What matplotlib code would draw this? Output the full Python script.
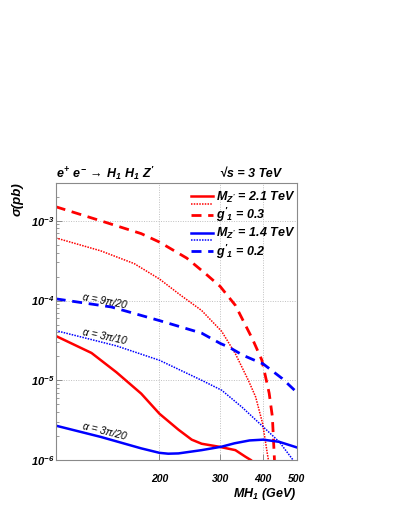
import matplotlib
matplotlib.use("Agg")
from matplotlib import pyplot as plt
from matplotlib.lines import Line2D
from matplotlib.ticker import FixedLocator, FuncFormatter, LogLocator, NullFormatter, NullLocator
import numpy as np

# values: MH1 (GeV) -> sigma (pb)
# M_Z' = 2.1 TeV, g'1 = 0.3 (red)
red_dash_mh = [100, 135, 177, 200, 240, 271, 300, 332, 372, 396, 402, 416, 425, 431]
red_dash_xs = [1.5e-3, 1.0e-3, 6.9e-4, 5.4e-4, 3.4e-4, 2.2e-4, 1.5e-4, 8.7e-5, 3.3e-5,
               1.8e-5, 1.35e-5, 6.9e-6, 3.5e-6, 1.0e-6]
red_dot_mh = [100, 135, 169, 200, 230, 265, 303, 332, 362, 380, 398, 411, 414]
red_dot_xs = [6.1e-4, 4.2e-4, 2.9e-4, 1.86e-4, 1.17e-4, 7.5e-5, 4.1e-5, 2.15e-5, 1.0e-5,
              6.2e-6, 2.9e-6, 1.2e-6, 1.0e-6]
red_sol_mh = [100, 127, 150, 177, 200, 227, 248, 265, 297, 332, 355, 368]
red_sol_xs = [3.6e-5, 2.2e-5, 1.26e-5, 6.8e-6, 3.8e-6, 2.4e-6, 1.8e-6, 1.6e-6, 1.47e-6,
              1.33e-6, 1.1e-6, 1.0e-6]

# M_Z' = 1.4 TeV, g'1 = 0.2 (blue)
blue_dash_mh = [100, 145, 200, 265, 300, 318, 350, 400, 454, 493, 500]
blue_dash_xs = [1.05e-4, 8.3e-5, 5.6e-5, 3.9e-5, 2.9e-5, 2.6e-5, 2.05e-5, 1.6e-5, 1.05e-5,
                7.5e-6, 7.0e-6]
blue_dot_mh = [100, 150, 200, 265, 303, 347, 400, 445, 488]
blue_dot_xs = [4.2e-5, 2.7e-5, 1.78e-5, 1.0e-5, 7.5e-6, 4.6e-6, 2.6e-6, 1.69e-6, 1.0e-6]
blue_sol_mh = [100, 135, 177, 200, 212, 227, 265, 303, 330, 365, 400, 445, 500]
blue_sol_xs = [2.7e-6, 1.95e-6, 1.4e-6, 1.23e-6, 1.2e-6, 1.21e-6, 1.33e-6, 1.47e-6, 1.62e-6,
               1.76e-6, 1.8e-6, 1.69e-6, 1.44e-6]

x_ticks = [200, 300, 400, 500]
y_ticks = [1e-6, 1e-5, 1e-4, 1e-3]

# alpha labels: (text, MH1, sigma, angle)
alpha_labels = [(r"α = 9π/20", 119, 1.02e-4, -11),
                (r"α = 3π/10", 119, 3.7e-5, -12),
                (r"α = 3π/20", 119, 2.45e-6, -14)]

plt.rcParams['font.family'] = ['Liberation Sans', 'DejaVu Sans']
plt.rcParams['font.weight'] = 'bold'
plt.rcParams['font.style'] = 'italic'
plt.rcParams['mathtext.fontset'] = 'custom'
plt.rcParams['mathtext.rm'] = 'Liberation Sans:italic:bold'
plt.rcParams['mathtext.it'] = 'Liberation Sans:italic:bold'
plt.rcParams['mathtext.bf'] = 'Liberation Sans:italic:bold'

RED = '#ff0000'
BLUE = '#0000ff'
GRID = '#c0c0c0'
FRAME = '#8a8a8a'
dash = (0, (3.6, 2.4))
dot = (0, (1, 0.8))

fig = plt.figure(figsize=(3.99, 5.16), dpi=100)
ax = fig.add_axes([0.1396, 0.1085, 0.604, 0.5374])

ax.plot(red_sol_mh, red_sol_xs, color=RED, lw=1.8)
ax.plot(red_dot_mh, red_dot_xs, color=RED, lw=1.1, linestyle=dot)
ax.plot(red_dash_mh, red_dash_xs, color=RED, lw=2.0, linestyle=dash)
ax.plot(blue_sol_mh, blue_sol_xs, color=BLUE, lw=1.8)
ax.plot(blue_dot_mh, blue_dot_xs, color=BLUE, lw=1.1, linestyle=dot)
ax.plot(blue_dash_mh, blue_dash_xs, color=BLUE, lw=2.0, linestyle=dash)

ax.set_xscale('log')
ax.set_yscale('log')
ax.set_xlim(100, 500)
ax.set_ylim(1e-6, 3e-3)

ax.xaxis.set_major_locator(FixedLocator(x_ticks))
ax.xaxis.set_major_formatter(FuncFormatter(lambda v, p: "%d" % v))
ax.xaxis.set_minor_locator(NullLocator())
ax.yaxis.set_major_locator(FixedLocator(y_ticks))
ax.yaxis.set_major_formatter(FuncFormatter(lambda v, p: r"$10^{%d}$" % round(np.log10(v))))
ax.yaxis.set_minor_locator(LogLocator(base=10, subs=np.arange(2, 10)))
ax.yaxis.set_minor_formatter(NullFormatter())

ax.tick_params(axis='x', which='major', direction='in', length=4, width=0.7, color=FRAME,
               labelsize=7.5, pad=10)
ax.tick_params(axis='y', which='major', direction='in', length=4.5, width=0.7, color=FRAME,
               labelsize=8, pad=1)
ax.tick_params(axis='y', which='minor', direction='in', length=2.3, width=0.6, color=FRAME)

ax.grid(True, which='major', color=GRID, linestyle=(0, (1, 1.5)), lw=0.7)
for s in ax.spines.values():
    s.set_color(FRAME)
    s.set_linewidth(0.8)

for txt, mh, xs, ang in alpha_labels:
    ax.text(mh, xs, txt, fontsize=7.5, fontweight='normal', style='italic', rotation=ang,
            rotation_mode='anchor', ha='left', va='baseline')

ax.text(0.0, 1.016, r"$e^{+}\ e^{-}\,\rightarrow\, H_{1}\ H_{1}\ Z'$", transform=ax.transAxes,
        fontsize=9, ha='left', va='baseline')
ax.text(0.81, 1.0197, "√s = 3 TeV", transform=ax.transAxes, fontsize=9, ha='center',
        va='baseline', fontweight='bold', style='italic')

ax.set_ylabel("σ(pb)", fontsize=9.5, loc='top', fontweight='bold', style='italic')
ax.yaxis.set_label_coords(-0.135, 1.0)
ax.set_xlabel(r"$MH_{1}\ (GeV)$", fontsize=9, loc='right')
ax.xaxis.set_label_coords(1.0, -0.095)

handles = [Line2D([], [], color=RED, lw=1.8),
           Line2D([], [], color=RED, lw=1.1, linestyle=dot),
           Line2D([], [], color=RED, lw=2.0, linestyle=dash),
           Line2D([], [], color='none'),
           Line2D([], [], color=BLUE, lw=1.8),
           Line2D([], [], color=BLUE, lw=1.1, linestyle=dot),
           Line2D([], [], color=BLUE, lw=2.0, linestyle=dash)]
labels = [r"$M_{Z'}$ = 2.1 TeV", "", r"$g'_{1}$ = 0.3", "",
          r"$M_{Z'}$ = 1.4 TeV", "", r"$g'_{1}$ = 0.2"]
ax.legend(handles, labels, loc='upper left', bbox_to_anchor=(0.56, 0.975), frameon=False,
          fontsize=9, handlelength=1.75, handletextpad=0.3, labelspacing=-0.42,
          borderaxespad=0, borderpad=0)

fig.savefig("out.png", dpi=100)
